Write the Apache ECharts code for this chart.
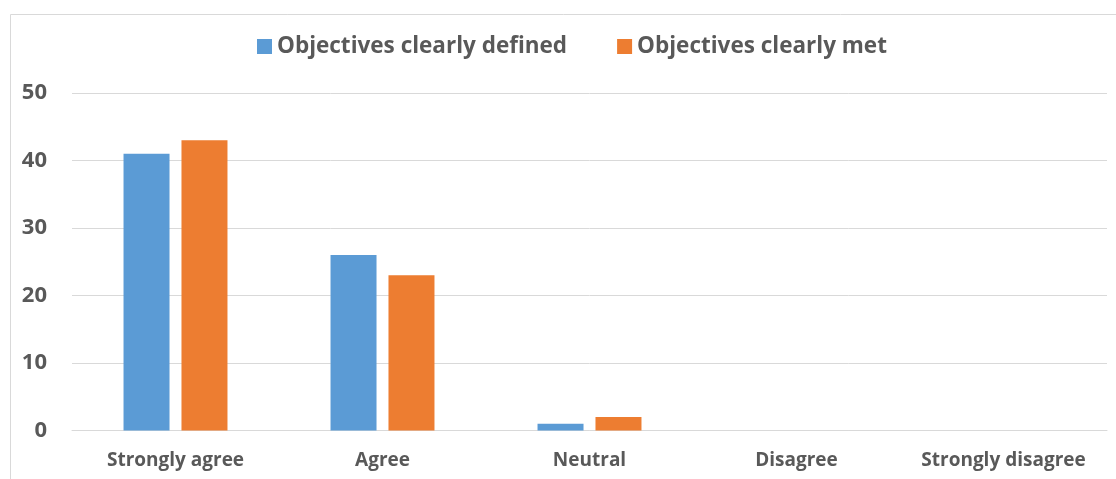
<!DOCTYPE html>
<html><head><meta charset="utf-8">
<script src="https://cdn.jsdelivr.net/npm/echarts@6/dist/echarts.min.js"></script>
<style>html,body{margin:0;padding:0;background:#fff}#c{width:1116px;height:479px}</style>
</head><body><div id="c"></div>
<script>
const categories = ['Strongly agree', 'Agree', 'Neutral', 'Disagree', 'Strongly disagree'];
const seriesNames = ['Objectives clearly defined', 'Objectives clearly met'];
const definedValues = [41, 26, 1, 0, 0];
const metValues = [43, 23, 2, 0, 0];
const yTicks = [0, 10, 20, 30, 40, 50];

const FONT = 'Open Sans';
const TXT = '#595959';
const chart = echarts.init(document.getElementById('c'));
chart.setOption({
  animation: false,
  color: ['#5B9BD5', '#ED7D31'],
  graphic: [{
    type: 'rect', left: 8, top: 12, silent: true,
    shape: { width: 1120, height: 480 },
    style: { fill: 'none', stroke: '#d9d9d9', lineWidth: 1 }
  }],
  legend: {
    left: 252, top: 30, itemWidth: 15, itemHeight: 15, itemGap: 50,
    icon: 'rect',
    textStyle: { fontFamily: FONT, fontWeight: 'bold', fontSize: 22.5, color: TXT },
    data: seriesNames
  },
  grid: { left: 72, right: 9, top: 93, bottom: 48.5, containLabel: false },
  xAxis: {
    type: 'category', data: categories,
    axisLine: { lineStyle: { color: '#d9d9d9' } },
    axisTick: { show: false },
    axisLabel: { interval: 0, margin: 21, fontFamily: FONT, fontWeight: 'bold', fontSize: 19, color: TXT }
  },
  yAxis: {
    type: 'value', min: yTicks[0], max: yTicks[yTicks.length - 1], interval: 10,
    axisLine: { show: false }, axisTick: { show: false },
    splitLine: { lineStyle: { color: '#d9d9d9' } },
    axisLabel: { margin: 25, fontFamily: FONT, fontWeight: 'bold', fontSize: 22, color: TXT }
  },
  series: [
    { name: seriesNames[0], type: 'bar', data: definedValues, barWidth: 46, barGap: '26%' },
    { name: seriesNames[1], type: 'bar', data: metValues, barWidth: 46, barGap: '26%' }
  ]
});
</script></body></html>
